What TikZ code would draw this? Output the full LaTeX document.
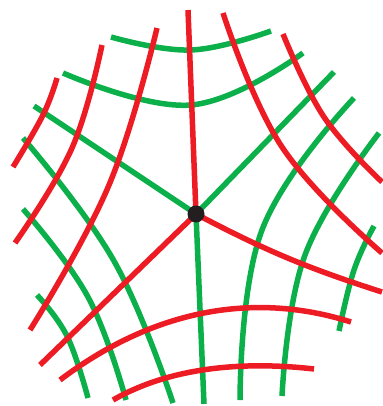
\documentclass[tikz,border=0pt]{standalone}
\usepackage{tikz}
\usetikzlibrary{positioning}
\definecolor{webred}{RGB}{237,28,36}
\definecolor{webgreen}{RGB}{12,176,75}
\definecolor{hubgray}{RGB}{35,31,32}

\begin{document}
\begin{tikzpicture}[
        x=1pt, y=-1pt,
        greenline/.style={draw=webgreen, line width=5.5pt},
        redline/.style={draw=webred, line width=5.5pt},
        curve/.style={smooth, tension=0.7},
        hub/.style={circle, fill=hubgray, minimum size=17pt, inner sep=0pt}
    ]
    \useasboundingbox (0,0) rectangle (382,406);

    \coordinate (hubpos) at (196,214);
    \coordinate (gNW) at (34,106);
    \coordinate (gNE) at (334,72);
    \coordinate (gS) at (204,404);
    \coordinate (rN) at (188,10);
    \coordinate (rSW) at (40,365);
    \coordinate (rE) at (382,292);

    % green family
    \draw [greenline] plot[curve] coordinates {(111,37) (191,50) (271,31)};
    \draw [greenline] plot[curve] coordinates {(63,73) (191,105) (303,53)};
    \draw [greenline] plot[curve] coordinates {(23,138) (114,261) (173,403)};
    \draw [greenline] plot[curve] coordinates {(23,209) (88,297) (126,400)};
    \draw [greenline] plot[curve] coordinates {(37,295) (67,336) (88,398)};
    \draw [greenline] plot[curve] coordinates {(354,98) (262,230) (240,400)};
    \draw [greenline] plot[curve] coordinates {(379,133) (305,255) (282,396)};
    \draw [greenline] plot[curve] coordinates {(374,226) (354,270) (339,331)};
    \draw [greenline] (hubpos) -- (gNW);
    \draw [greenline] (hubpos) -- (gNE);
    \draw [greenline] (hubpos) -- (gS);

    % red family
    \draw [redline] plot[curve] coordinates {(57,78) (43,115) (13,167)};
    \draw [redline] plot[curve] coordinates {(102,45) (72,148) (15,243)};
    \draw [redline] plot[curve] coordinates {(157,28) (109,185) (30,330)};
    \draw [redline] (60,380) .. controls (150,312) and (250,290) .. (351,322);
    \draw [redline] (113,400) .. controls (165,370) and (235,360) .. (314,369);
    \draw [redline] plot[curve] coordinates {(223,13) (282,147) (382,253)};
    \draw [redline] plot[curve] coordinates {(283,34) (324,117) (382,182)};
    \draw [redline] (hubpos) -- (rN);
    \draw [redline] (hubpos) -- (rSW);
    \draw [redline] (hubpos) to[bend right=5] (rE);

    \node (center) [hub] at (hubpos) {};

\end{tikzpicture}
\end{document}
